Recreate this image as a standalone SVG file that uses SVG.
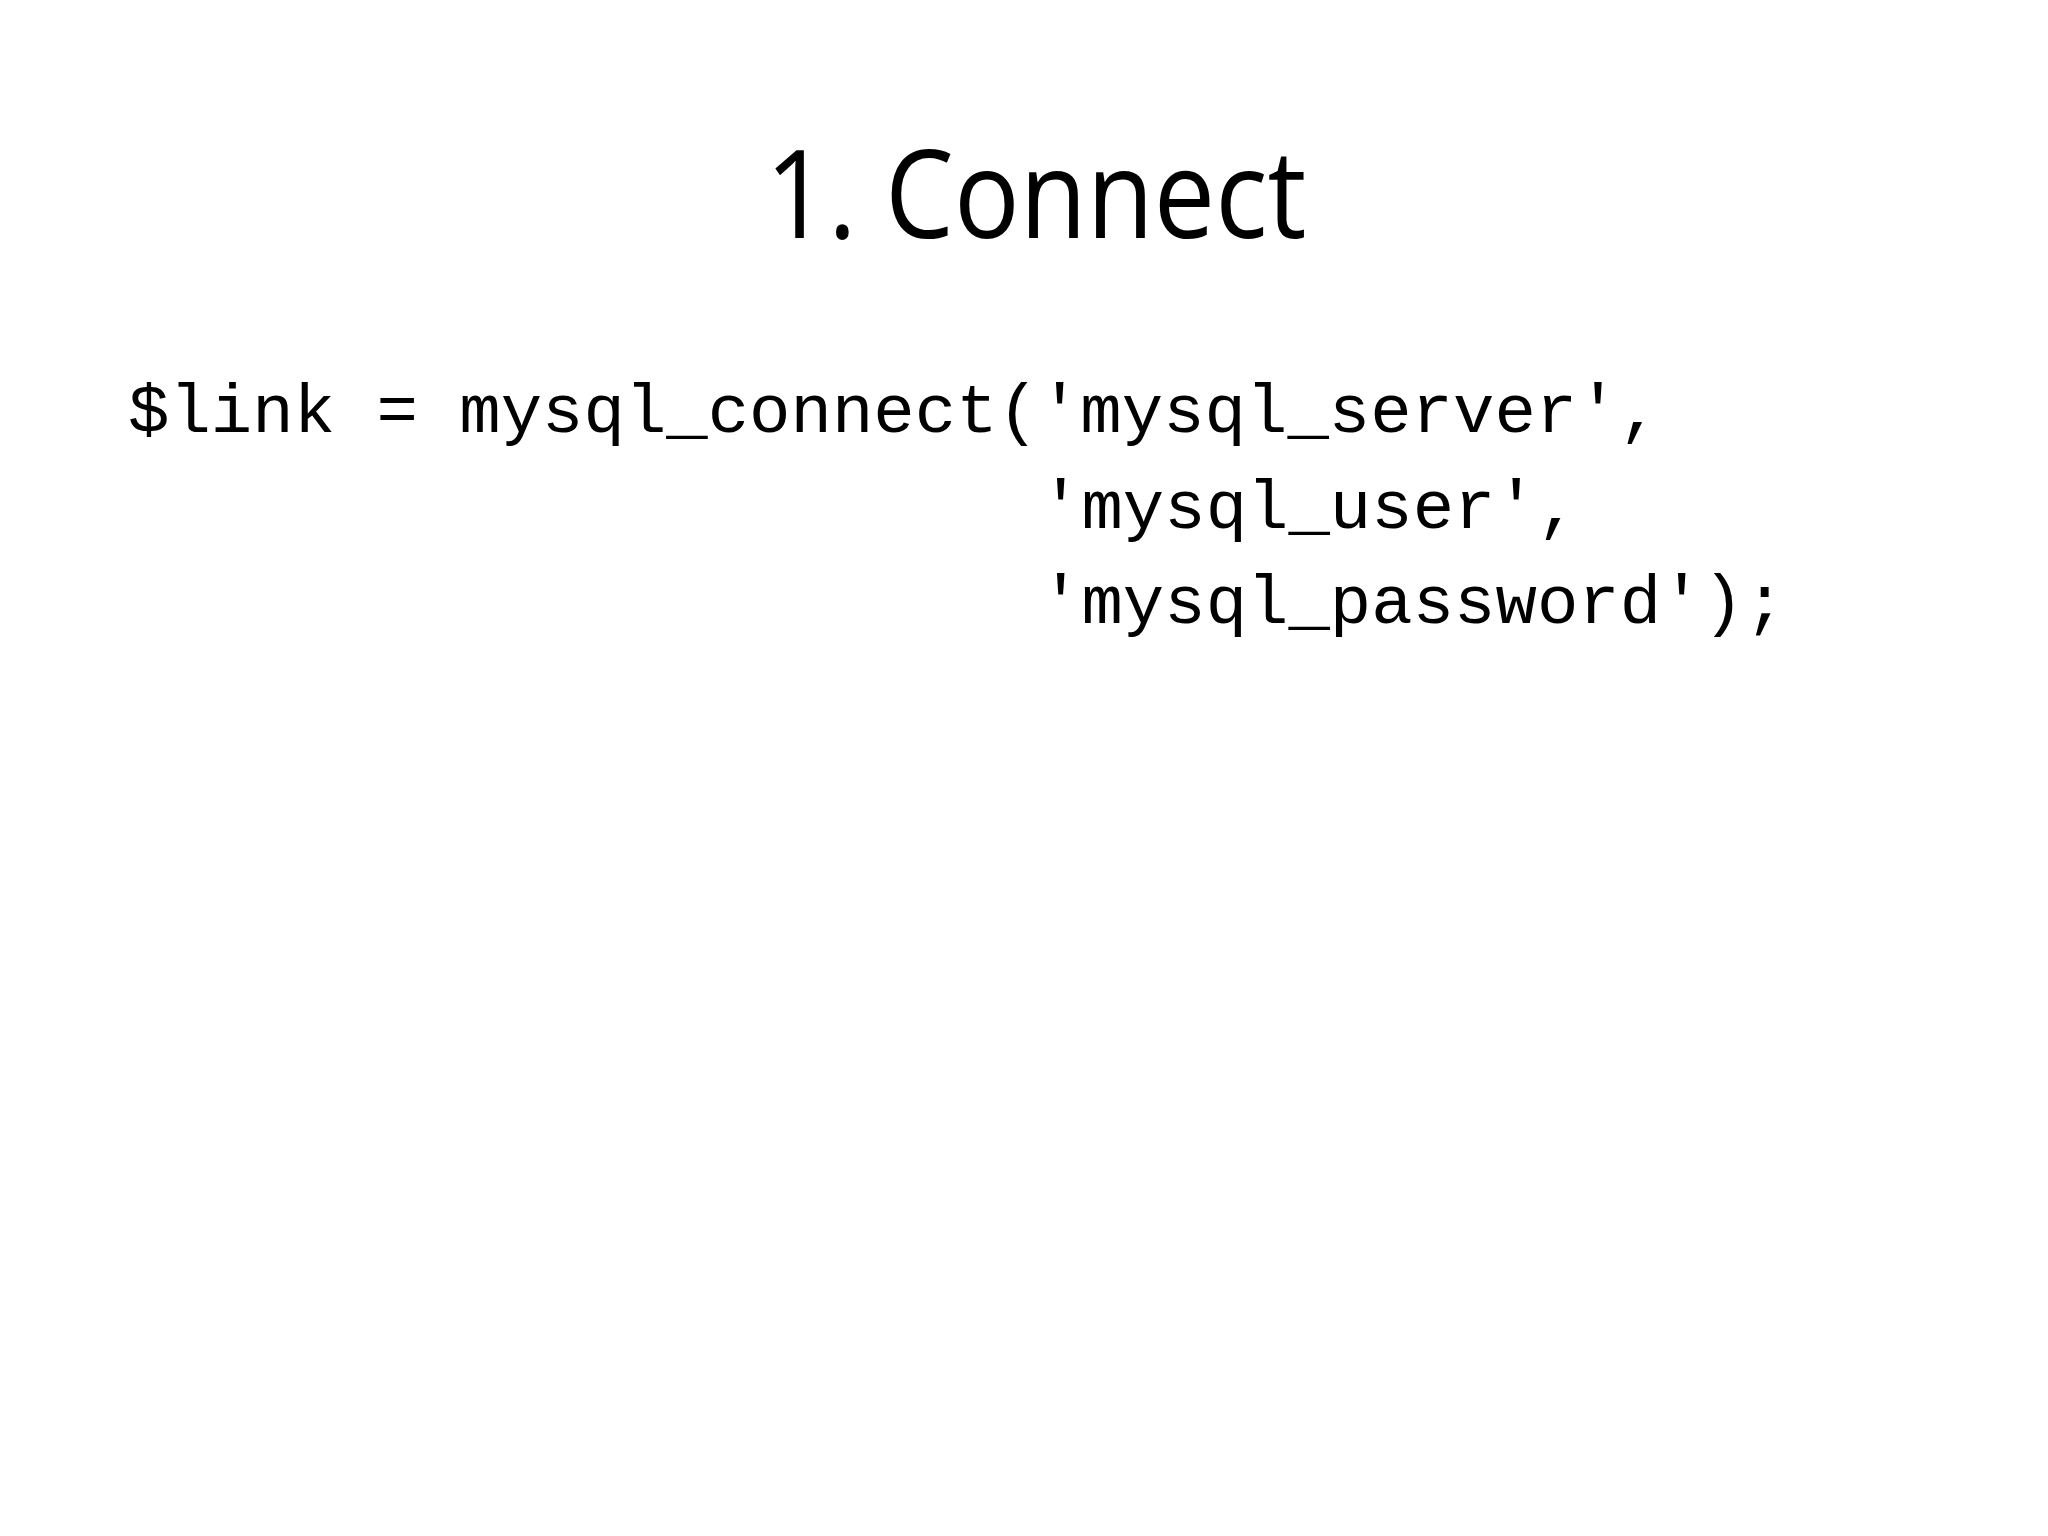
<svg xmlns="http://www.w3.org/2000/svg" width="2048" height="1536" viewBox="0 0 2048 1536">
<style>
.t{font-family:"Open Sans","Liberation Sans",sans-serif;font-size:122px;fill:#000}
.c{font-family:"Liberation Mono","Courier New",monospace;font-size:69px;fill:#000;white-space:pre}
</style>
<rect width="2048" height="1536" fill="#fff"/>
<g id="title"><text class="t" x="1036" y="238" text-anchor="middle" textLength="541" lengthAdjust="spacingAndGlyphs">1. Connect</text></g>
<g id="code">
<text class="c" x="128" y="432" xml:space="preserve">$link = mysql_connect('mysql_server',</text>
<text class="c" x="1040" y="528" xml:space="preserve">'mysql_user',</text>
<text class="c" x="1040" y="623" xml:space="preserve">'mysql_password');</text>
</g>
</svg>
